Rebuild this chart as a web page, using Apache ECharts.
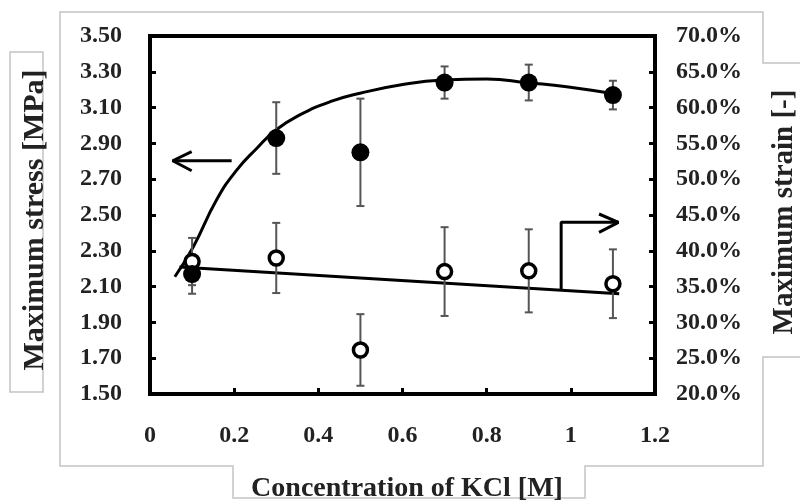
<!DOCTYPE html>
<html>
<head>
<meta charset="utf-8">
<script src="https://cdn.jsdelivr.net/npm/echarts@6/dist/echarts.min.js"></script>
<style>html,body{margin:0;padding:0;background:#fff;}#c{width:800px;height:503px;}</style>
</head>
<body>
<div id="c"></div>
<script>
// ---- data ----
const concentration = [0.1, 0.3, 0.5, 0.7, 0.9, 1.1];
const stress    = [2.17, 2.93, 2.85, 3.24, 3.24, 3.17];
const stressErr = [0.11, 0.20, 0.30, 0.09, 0.10, 0.08];
const strain    = [0.385, 0.390, 0.2615, 0.371, 0.372, 0.354];
const strainErr = [0.033, 0.049, 0.050, 0.062, 0.058, 0.048];

// trend curves
const stressTrendX = [0.059, 0.103, 0.158, 0.206, 0.254, 0.299, 0.356, 0.428, 0.499, 0.594, 0.697, 0.800, 0.898, 0.990, 1.117];
const stressTrendY = [2.155, 2.323, 2.584, 2.751, 2.873, 2.975, 3.059, 3.133, 3.180, 3.226, 3.254, 3.260, 3.239, 3.217, 3.172];
const strainTrendX = [0.07, 1.115];
const strainTrendY = [0.3775, 0.340];

// annotation arrows (data coordinates)
const leftArrowShaftX = [0.194, 0.054];
const leftArrowShaftY = [2.803, 2.803];
const leftArrowHeadX  = [0.099, 0.054, 0.099];
const leftArrowHeadY  = [2.854, 2.803, 2.747];
const rightArrowX = [0.977, 0.977, 1.113];
const rightArrowY = [0.3462, 0.4398, 0.4398];
const rightArrowHeadX = [1.067, 1.113, 1.067];
const rightArrowHeadY = [0.4514, 0.4398, 0.4258];

// axis ranges / ticks
const xTicks = {min: 0, max: 1.2, interval: 0.2};
const stressTicks = {min: 1.5, max: 3.5, interval: 0.2};
const strainTicks = {min: 0.2, max: 0.7, interval: 0.05};

const zip = (a, b) => a.map((v, i) => [v, b[i]]);
const zip3 = (a, b, c) => a.map((v, i) => [v, b[i], c[i]]);

const FONT = "'Liberation Serif', 'Times New Roman', serif";
const TXT = '#222';

function errRender(params, api) {
  const x = api.value(0), y = api.value(1), e = api.value(2);
  const t = api.coord([x, y + e]);
  const b = api.coord([x, y - e]);
  const st = {stroke: '#555', lineWidth: 2};
  const w = 4;
  return {type: 'group', children: [
    {type: 'line', shape: {x1: t[0], y1: t[1], x2: b[0], y2: b[1]}, style: st},
    {type: 'line', shape: {x1: t[0] - w, y1: t[1], x2: t[0] + w, y2: t[1]}, style: st},
    {type: 'line', shape: {x1: b[0] - w, y1: b[1], x2: b[0] + w, y2: b[1]}, style: st}
  ]};
}

const lineStyleBlack = {color: '#000', width: 3};
function plainLine(data, yIdx, smooth) {
  return {type: 'line', yAxisIndex: yIdx, data: data, showSymbol: false, symbol: 'none',
    smooth: smooth || false, lineStyle: lineStyleBlack, itemStyle: {color: '#000'},
    silent: true, z: 3, animation: false};
}

const chart = echarts.init(document.getElementById('c'), null, {renderer: 'canvas'});
const option = {
  animation: false,
  backgroundColor: '#fff',
  grid: {left: 150, right: 145, top: 36, bottom: 109, show: true, borderColor: '#000', borderWidth: 4, backgroundColor: 'transparent'},
  xAxis: {
    type: 'value', min: xTicks.min, max: xTicks.max, interval: xTicks.interval,
    axisLine: {show: false}, splitLine: {show: false},
    axisTick: {show: true, inside: true, length: 6, lineStyle: {color: '#000', width: 3}},
    axisLabel: {margin: 30, color: TXT, fontFamily: FONT, fontWeight: 'bold', fontSize: 24,
      formatter: v => String(+v.toFixed(1))}
  },
  yAxis: [
    {type: 'value', min: stressTicks.min, max: stressTicks.max, interval: stressTicks.interval,
      axisLine: {show: false}, splitLine: {show: false},
      axisTick: {show: true, inside: true, length: 6, lineStyle: {color: '#000', width: 3}},
      axisLabel: {margin: 28, color: TXT, fontFamily: FONT, fontWeight: 'bold', fontSize: 24,
        formatter: v => v.toFixed(2)}},
    {type: 'value', position: 'right', min: strainTicks.min, max: strainTicks.max, interval: strainTicks.interval,
      axisLine: {show: false}, splitLine: {show: false},
      axisTick: {show: true, inside: true, length: 6, lineStyle: {color: '#000', width: 3}},
      axisLabel: {margin: 21, color: TXT, fontFamily: FONT, fontWeight: 'bold', fontSize: 24,
        formatter: v => (v * 100).toFixed(1) + '%'}}
  ],
  series: [
    plainLine(zip(stressTrendX, stressTrendY), 0, 0.5),
    plainLine(zip(strainTrendX, strainTrendY), 1),
    plainLine(zip(leftArrowShaftX, leftArrowShaftY), 0),
    plainLine(zip(leftArrowHeadX, leftArrowHeadY), 0),
    plainLine(zip(rightArrowX, rightArrowY), 1),
    plainLine(zip(rightArrowHeadX, rightArrowHeadY), 1),
    {type: 'custom', yAxisIndex: 0, renderItem: errRender, data: zip3(concentration, stress, stressErr), z: 4, silent: true},
    {type: 'custom', yAxisIndex: 1, renderItem: errRender, data: zip3(concentration, strain, strainErr), z: 4, silent: true},
    {type: 'scatter', yAxisIndex: 1, data: zip(concentration, strain), symbol: 'circle', symbolSize: 14,
      itemStyle: {color: '#fff', borderColor: '#000', borderWidth: 3.5, opacity: 1}, z: 5, silent: true},
    {type: 'scatter', yAxisIndex: 0, data: zip(concentration, stress), symbol: 'circle', symbolSize: 18,
      itemStyle: {color: '#000', opacity: 1}, z: 6, silent: true}
  ],
  graphic: [
    // outer frame outline (chart area with notches for title boxes)
    {type: 'polyline', silent: true, z: -1, shape: {points: [[800, 63], [763, 63], [763, 12], [60, 12], [60, 466], [233, 466], [233, 498], [585, 498], [585, 466], [763, 466], [763, 357], [800, 357]]},
      style: {stroke: '#c4c4c4', lineWidth: 1.5, fill: null}},
    {type: 'rect', silent: true, z: -1, shape: {x: 10, y: 52, width: 33, height: 340},
      style: {stroke: '#c4c4c4', lineWidth: 1.5, fill: null}},
    {type: 'text', silent: true, x: 35, y: 220, rotation: Math.PI / 2,
      style: {text: 'Maximum stress [MPa]', font: 'bold 30px ' + FONT, fill: TXT, align: 'center', verticalAlign: 'middle'}},
    {type: 'text', silent: true, x: 785, y: 212, rotation: Math.PI / 2,
      style: {text: 'Maximum strain [-]', font: 'bold 29px ' + FONT, fill: TXT, align: 'center', verticalAlign: 'middle'}},
    {type: 'text', silent: true, x: 407, y: 489,
      style: {text: 'Concentration of KCl [M]', font: 'bold 28px ' + FONT, fill: TXT, align: 'center', verticalAlign: 'middle'}}
  ]
};
chart.setOption(option);
</script>
</body>
</html>
